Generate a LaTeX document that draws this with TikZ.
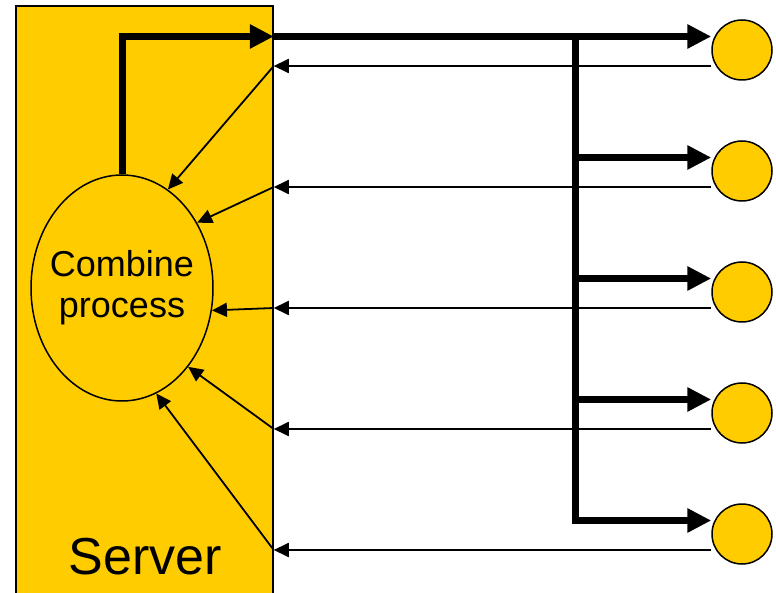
\documentclass[tikz,border=0pt]{standalone}
\usepackage{fontspec}
\setmainfont{Liberation Sans}
\usetikzlibrary{arrows.meta,shapes.geometric}
\definecolor{gold}{HTML}{FFCC00}
\begin{document}
\begin{tikzpicture}[x=1pt,y=-1pt,
  thickline/.style={line width=7pt},
  thickarrow/.style={line width=7pt,-{Triangle[length=24pt,width=23pt]}},
  thinarrow/.style={line width=1.8pt,-{Triangle[length=15pt,width=14pt]}},
  client/.style={circle,draw,line width=1.5pt,fill=gold,minimum size=60pt,inner sep=0pt},
  serverbox/.style={draw,line width=1.5pt,fill=gold,minimum width=257pt,minimum height=594pt,inner sep=0pt},
  process/.style={ellipse,draw,line width=1.5pt,fill=gold,minimum width=182pt,minimum height=226pt,inner sep=0pt,align=center,font=\fontsize{36}{41}\selectfont},
]
\useasboundingbox (0,0) rectangle (776,593);
\node[serverbox] (server) at (144.5,303) {};
\node[anchor=base,font=\fontsize{52}{60}\selectfont] (label) at (145,574) {Server};
\node[process] (e) at (122,288) {\makebox[0pt]{Combine}\\\makebox[0pt]{process}};
\foreach \i/\y in {1/50,2/171,3/292,4/413,5/534}
  \node[client] (c\i) at (742,\y) {};
\foreach \i in {1,...,5}
  \path ([yshift=13.5pt]c\i.west) coordinate (k\i)
        ([yshift=-16pt]c\i.west) coordinate (r\i);
\coordinate (b0) at (server.east |- k1);
\path (k1) ++(-136,0) coordinate (t);
% thick output path
\draw[thickarrow] (e.north) -- (e.north |- k1) -- (b0);
\draw[thickarrow] (b0) -- (k1);
\draw[thickline,line cap=rect] (t) -- (t |- k5);
\foreach \i in {2,...,5}
  \draw[thickarrow] (t |- k\i) -- (k\i);
% thin input paths
\foreach \i/\a in {1/65,2/41,3/-14,4/-50,5/-72} {
  \draw[thinarrow] (r\i) -- (server.east |- r\i);
  \draw[thinarrow] (server.east |- r\i) -- (e.\a);
}
\end{tikzpicture}
\end{document}
